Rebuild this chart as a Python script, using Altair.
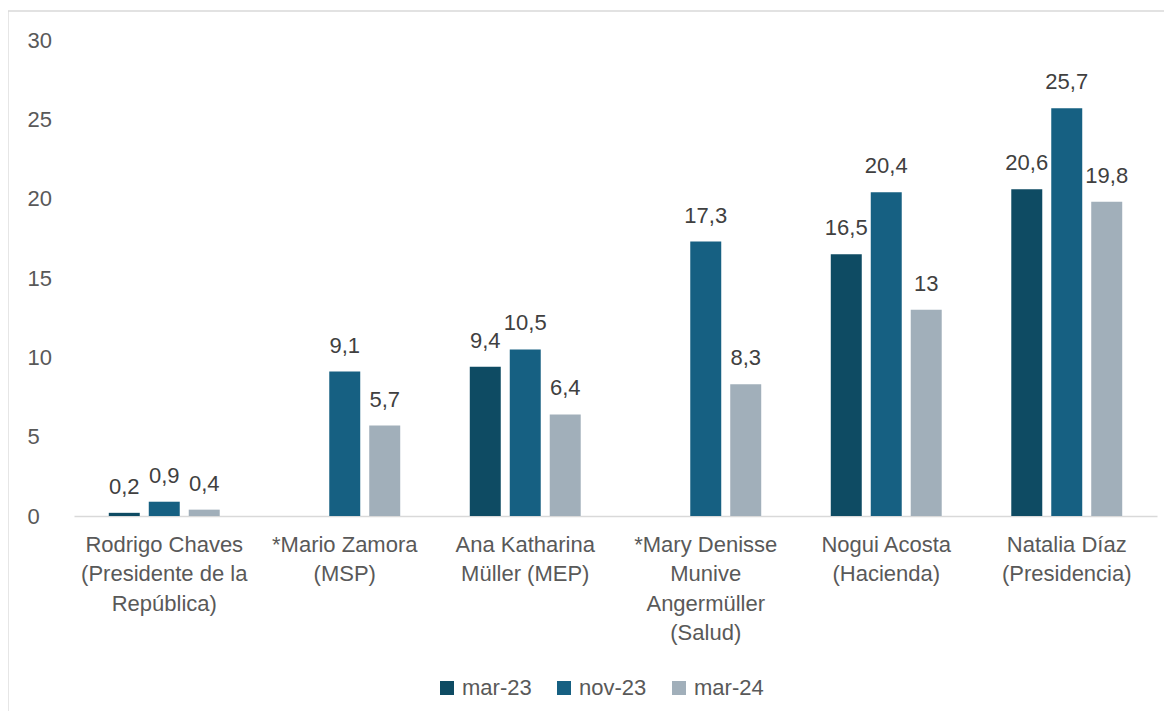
import altair as alt
import pandas as pd

categories = [
    "Rodrigo Chaves|(Presidente de la|República)",
    "*Mario Zamora|(MSP)",
    "Ana Katharina|Müller (MEP)",
    "*Mary Denisse|Munive|Angermüller|(Salud)",
    "Nogui Acosta|(Hacienda)",
    "Natalia Díaz|(Presidencia)",
]
series = ["mar-23", "nov-23", "mar-24"]
mar23 = [0.2, None, 9.4, None, 16.5, 20.6]
nov23 = [0.9, 9.1, 10.5, 17.3, 20.4, 25.7]
mar24 = [0.4, 5.7, 6.4, 8.3, 13, 19.8]
colors = ["#0E4B63", "#166082", "#A1AFBA"]

rows = []
for s, vals in zip(series, [mar23, nov23, mar24]):
    for c, v in zip(categories, vals):
        if v is not None:
            rows.append({"cat": c, "serie": s, "value": v,
                         "label": (f"{v:g}").replace(".", ",")})
df = pd.DataFrame(rows)

W, H = 1083, 476
FONT = "Liberation Sans"
FS = 22

xenc = alt.X("cat:N", sort=categories, title=None,
             scale=alt.Scale(paddingInner=0, paddingOuter=0),
             axis=alt.Axis(labelExpr="split(datum.label, '|')", labelAngle=0,
                           labelFontSize=FS, labelColor="#595959", labelFont=FONT,
                           labelLineHeight=29.5, labelPadding=18, ticks=False,
                           domainColor="#D9D9D9", domainWidth=1.3, labelLimit=300))
xoff = alt.XOffset("serie:N", sort=series,
                   scale=alt.Scale(domain=series, paddingInner=0.225, paddingOuter=0.87))

base = alt.Chart(df)

bars = base.mark_bar().encode(
    x=xenc,
    xOffset=xoff,
    y=alt.Y("value:Q", title=None,
            scale=alt.Scale(domain=[0, 30]),
            axis=alt.Axis(values=[0, 5, 10, 15, 20, 25, 30], grid=False, domain=False,
                          ticks=False, labelFontSize=FS, labelColor="#595959",
                          labelFont=FONT, labelPadding=47, labelAlign="left")),
    color=alt.Color("serie:N", sort=series,
                    scale=alt.Scale(domain=series, range=colors),
                    legend=alt.Legend(title=None, orient="none", direction="horizontal",
                                      legendX=362, legendY=637, symbolType="square",
                                      symbolSize=196, symbolStrokeWidth=0,
                                      labelFontSize=FS, labelColor="#595959",
                                      labelFont=FONT, columnPadding=21, labelOffset=4)),
)

text = base.mark_text(dy=-19, baseline="alphabetic", fontSize=FS, color="#404040",
                      font=FONT).encode(
    x=alt.X("cat:N", sort=categories),
    xOffset=xoff,
    y="value:Q",
    text="label:N",
)

frame = alt.Chart(pd.DataFrame({"a": [0]})).mark_rect(
    fill=None, stroke="#D9D9D9", strokeWidth=1.3, clip=False).encode(
    x=alt.value(-66), x2=alt.value(1150), y=alt.value(-29), y2=alt.value(720))

chart = alt.layer(frame, bars, text).properties(
    width=W, height=H,
    autosize=alt.AutoSizeParams(type="none"),
    padding={"left": 66, "top": 32, "right": 7, "bottom": 195},
).configure(background="white").configure_view(stroke=None, strokeWidth=0)

chart.save("out.html", embed_options={"renderer": "svg", "actions": False})
